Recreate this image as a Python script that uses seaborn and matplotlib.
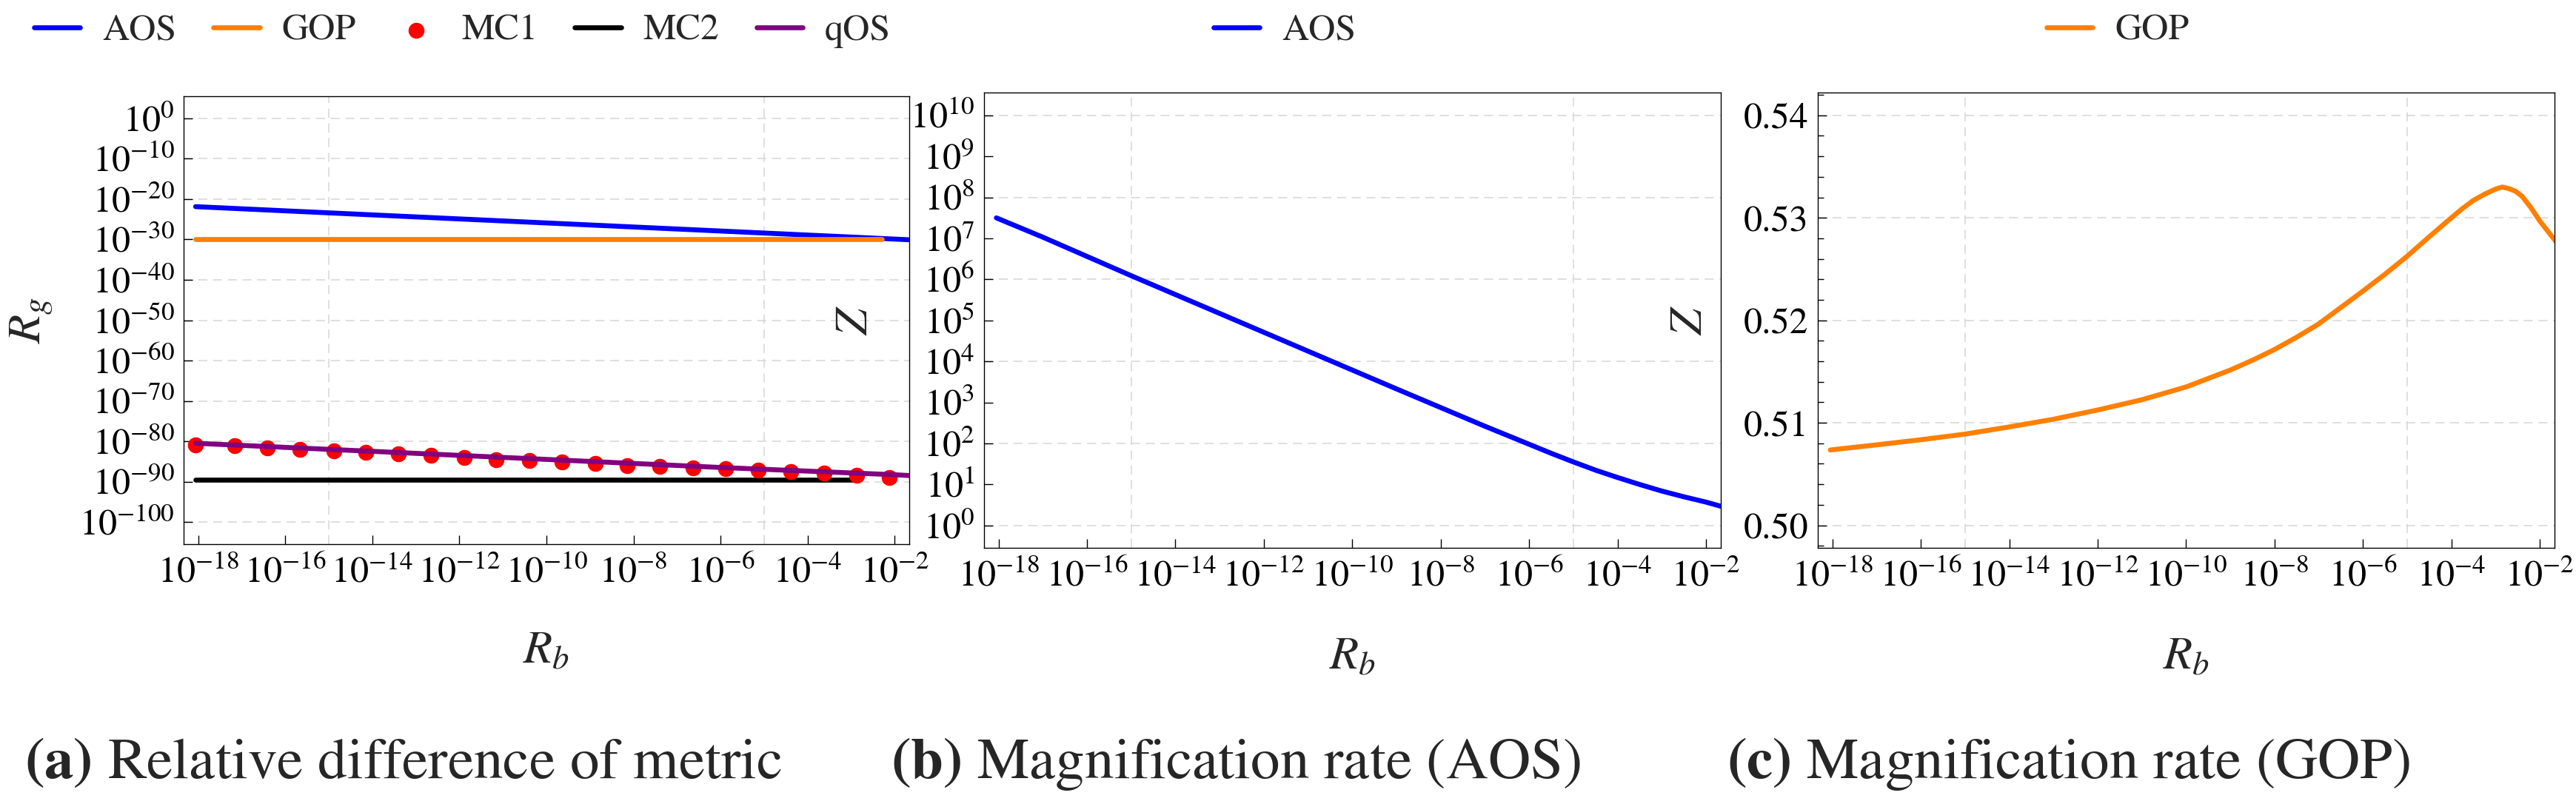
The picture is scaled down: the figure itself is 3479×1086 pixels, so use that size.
import numpy as np
import matplotlib
matplotlib.use("Agg")
import matplotlib.pyplot as plt
import matplotlib.ticker as mticker
import seaborn as sns

# all R_b / R_g / Z values below are log10 exponents
# panel (a): relative difference of metric
aos_a_logx = [-18.06, -14, -10, -6, -2, -1.5]
aos_a_logy = [-21.86, -23.9, -25.9, -27.9, -29.9, -30.15]
gop_a_logx = [-18.06, -2.29]
gop_a_logy = [-30.0, -30.0]
mc1_logx = [-18.06, -17.16, -16.41, -15.66, -14.89, -14.15, -13.40, -12.65, -11.89, -11.15, -10.39,
            -9.64, -8.88, -8.14, -7.39, -6.64, -5.88, -5.13, -4.38, -3.62, -2.88, -2.12]
mc1_logy = [-80.94, -81.19, -81.58, -81.96, -82.47, -82.72, -83.10, -83.48, -83.99, -84.50, -84.75,
            -85.13, -85.52, -86.02, -86.28, -86.66, -86.79, -87.17, -87.55, -87.8, -88.5, -88.95]
mc2_logx = [-18.06, -2.83]
mc2_logy = [-89.45, -89.45]
qos_logx = [-18.06, -14, -10, -6, -2, -1.5]
qos_logy = [-80.5, -82.5, -84.5, -86.5, -88.3, -88.6]

# panel (b): magnification rate of AOS
aos_b_logx = [-18.05, -17, -16, -15, -14, -13, -12, -11, -10, -9, -8, -7, -6, -5.5, -5, -4.5,
              -4, -3.5, -3, -2.5, -2, -1.6]
aos_b_logz = [7.5, 7.03, 6.56, 6.09, 5.63, 5.17, 4.71, 4.25, 3.79, 3.33, 2.875, 2.42, 1.98, 1.76,
              1.55, 1.35, 1.17, 1.0, 0.84, 0.7, 0.57, 0.45]

# panel (c): magnification rate of GOP
gop_c_logx = [-18.05, -17, -16, -15, -14, -13, -12, -11, -10, -9, -8.5, -8, -7.5, -7, -6.5, -6,
              -5.5, -5, -4.5, -4, -3.75, -3.5, -3.25, -3, -2.85, -2.7, -2.55, -2.4, -2.2, -2,
              -1.8, -1.6]
gop_c_z = [0.50735, 0.50785, 0.50835, 0.5089, 0.5096, 0.51035, 0.51125, 0.51225, 0.5135, 0.51515,
           0.5161, 0.51715, 0.51835, 0.51965, 0.52125, 0.52285, 0.5245, 0.52625, 0.52815, 0.5300,
           0.5309, 0.5317, 0.5323, 0.5328, 0.5330, 0.53285, 0.5326, 0.5321, 0.5310, 0.5297,
           0.5286, 0.5275]

xtick_exp = list(range(-18, 0, 2))
xgrid_exp = [-15, -10, -5]
captions = ["(a)", "(b)", "(c)"]
caption_text = [" Relative difference of metric", " Magnification rate (AOS)", " Magnification rate (GOP)"]

sns.set_theme(style="white")
plt.rcParams["font.family"] = ["STIXGeneral", "DejaVu Serif"]
plt.rcParams["mathtext.fontset"] = "stix"

W, H = 3480, 1086
fig = plt.figure(figsize=(W / 100, H / 100), dpi=100)


def px_axes(left, right, top, bottom):
    return fig.add_axes([left / W, 1 - bottom / H, (right - left) / W, (bottom - top) / H])


ax_a = px_axes(248, 1228, 130, 735)
ax_b = px_axes(1328.6, 2324, 125.3, 740)
ax_c = px_axes(2455, 3450, 125.3, 740)

pw = lambda v: 10.0 ** np.asarray(v)
sci = mticker.FuncFormatter(lambda v, p: f"$10^{{{int(round(np.log10(v)))}}}$")
grid_kw = dict(color="#d6d6d6", linestyle=(0, (8, 5)), linewidth=1.1)
lw = 4.8

# --- panel (a)
sns.lineplot(x=pw(aos_a_logx), y=pw(aos_a_logy), ax=ax_a, color="#0000ff", lw=lw, label="AOS",
             estimator=None, sort=False, zorder=3)
sns.lineplot(x=pw(gop_a_logx), y=pw(gop_a_logy), ax=ax_a, color="#ff7f00", lw=lw, label="GOP",
             estimator=None, sort=False, zorder=4)
sns.scatterplot(x=pw(mc1_logx), y=pw(mc1_logy), ax=ax_a, color="#ff0000", s=240, linewidth=0,
                label="MC1", zorder=5)
sns.lineplot(x=pw(mc2_logx), y=pw(mc2_logy), ax=ax_a, color="black", lw=lw, label="MC2",
             estimator=None, sort=False, zorder=4)
sns.lineplot(x=pw(qos_logx), y=pw(qos_logy), ax=ax_a, color="#800080", lw=lw, label="qOS",
             estimator=None, sort=False, zorder=6)
ax_a.set_yscale("log")
ax_a.set_ylim(10.0 ** -105.5, 10.0 ** 5.5)
ax_a.yaxis.set_major_locator(mticker.FixedLocator(pw(np.arange(-100, 1, 10))))
ax_a.yaxis.set_major_formatter(sci)
ax_a.yaxis.set_minor_locator(mticker.NullLocator())
ax_a.grid(True, which="major", axis="y", **grid_kw)

# --- panel (b)
sns.lineplot(x=pw(aos_b_logx), y=pw(aos_b_logz), ax=ax_b, color="#0000ff", lw=lw, label="AOS",
             estimator=None, sort=False)
ax_b.set_yscale("log")
ax_b.set_ylim(10.0 ** -0.545, 10.0 ** 10.55)
ax_b.yaxis.set_major_locator(mticker.FixedLocator(pw(np.arange(0, 11, 2))))
ax_b.yaxis.set_minor_locator(mticker.FixedLocator(pw(np.arange(1, 10, 2))))
ax_b.yaxis.set_major_formatter(sci)
ax_b.yaxis.set_minor_formatter(sci)
ax_b.grid(True, which="major", axis="y", **grid_kw)

# --- panel (c)
sns.lineplot(x=pw(gop_c_logx), y=gop_c_z, ax=ax_c, color="#ff7f00", lw=lw, label="GOP",
             estimator=None, sort=False)
ax_c.set_ylim(0.4978, 0.5422)
ax_c.yaxis.set_major_locator(mticker.FixedLocator([0.50, 0.51, 0.52, 0.53, 0.54]))
ax_c.yaxis.set_major_formatter(mticker.FormatStrFormatter("%.2f"))
ax_c.yaxis.set_minor_locator(mticker.MultipleLocator(0.002))
ax_c.grid(True, which="major", axis="y", **grid_kw)

legend_x = [624.5, 1735, 2860]
for i, ax in enumerate([ax_a, ax_b, ax_c]):
    ax.set_xscale("log")
    ax.set_xlim(10.0 ** -18.335, 10.0 ** -1.665)
    ax.xaxis.set_major_locator(mticker.FixedLocator(pw(xtick_exp)))
    ax.xaxis.set_major_formatter(sci)
    ax.xaxis.set_minor_locator(mticker.FixedLocator(pw(xgrid_exp)))
    ax.xaxis.set_minor_formatter(mticker.NullFormatter())
    ax.grid(True, which="minor", axis="x", **grid_kw)
    ax.set_axisbelow(True)
    ax.tick_params(axis="both", which="both", direction="in", labelsize=36, width=1.0,
                   top=False, right=False, left=True, bottom=True, colors="black")
    ax.tick_params(axis="both", which="major", length=8.5)
    ax.tick_params(axis="y", which="minor", length=8.5 if ax is ax_b else 5.5)
    ax.tick_params(axis="x", which="minor", length=0)
    ax.tick_params(axis="x", which="both", pad=12)
    ax.tick_params(axis="y", which="both", pad=9)
    for sp in ax.spines.values():
        sp.set_color("black")
        sp.set_linewidth(1.0)
    ax.set_xlabel("$R_b$", fontsize=46, va="center")
    ax.xaxis.set_label_coords(0.5, -(880 - 735) / 605)
    handles, labels = ax.get_legend_handles_labels()
    ax.get_legend().remove()
    fig.legend(handles, labels, loc="center", bbox_to_anchor=(legend_x[i] / W, 1 - 42 / H),
               ncol=len(labels), frameon=False, fontsize=36, handlelength=1.25,
               handletextpad=0.6, columnspacing=1.0, markerscale=1.0)
    fig.text([33, 1203, 2332][i] / W, 1 - 1032 / H,
             rf"$\mathbf{{{captions[i]}}}$" + caption_text[i], fontsize=57, ha="left", va="center")

ax_a.set_ylabel("$R_g$", fontsize=46, va="center")
ax_a.yaxis.set_label_coords(-0.21, 0.5)
for ax in (ax_b, ax_c):
    ax.set_ylabel("$Z$", fontsize=46, va="center")
    ax.yaxis.set_label_coords(-0.1735, 0.5)

fig.savefig("out.png", dpi=100, facecolor="white")
